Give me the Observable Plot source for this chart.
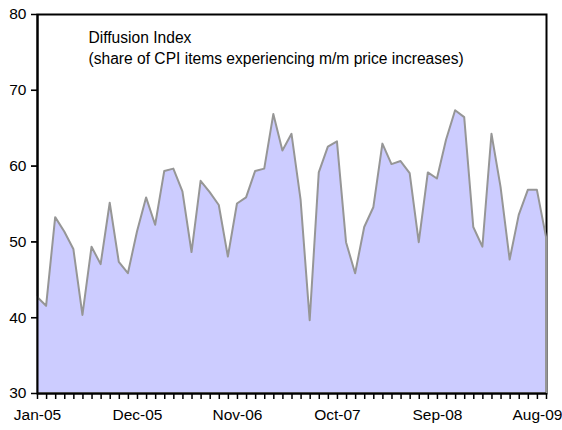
<!DOCTYPE html>
<html><head><meta charset="utf-8">
<script src="https://cdn.jsdelivr.net/npm/d3@7"></script>
<script src="https://cdn.jsdelivr.net/npm/@observablehq/plot@0.6"></script>
<style>body{margin:0;background:#fff} #chart{width:562px;height:430px}</style>
</head><body><div id="chart"></div>
<script>
// Monthly diffusion index, Jan-05 .. Sep-09
const values = [42.7, 41.5, 53.2, 51.3, 49.0, 40.3, 49.3, 47.0, 55.1, 47.3,
  45.8, 51.3, 55.8, 52.2, 59.3, 59.6, 56.6, 48.6, 58.0, 56.5,
  54.8, 48.0, 55.0, 55.8, 59.3, 59.6, 66.8, 62.0, 64.2, 55.5,
  39.6, 59.1, 62.5, 63.2, 49.9, 45.8, 51.9, 54.5, 62.9, 60.2,
  60.6, 59.0, 49.9, 59.1, 58.3, 63.4, 67.3, 66.4, 51.9, 49.3,
  64.2, 57.2, 47.6, 53.5, 56.8, 56.8, 50.6];
const tickLabels = ["Jan-05", "Dec-05", "Nov-06", "Oct-07", "Sep-08", "Aug-09"];
const tickEvery = 11;
const yTicks = [30, 40, 50, 60, 70, 80];
const title = "Diffusion Index";
const subtitle = "(share of CPI items experiencing m/m price increases)";

const data = values.map((v, i) => ({i, v}));
const font = "'Liberation Sans', Arial, sans-serif";
const yMin = yTicks[0];
const xIdx = d3.range(values.length);

const plot = Plot.plot({
  width: 562, height: 430,
  marginLeft: 37, marginRight: 16, marginTop: 14, marginBottom: 37,
  style: {fontFamily: font, fontSize: "15.5px", color: "#000", background: "#fff", overflow: "visible"},
  x: {domain: [0, values.length - 1]},
  y: {domain: [yMin, yTicks[yTicks.length - 1]]},
  marks: [
    Plot.frame({stroke: "#000", strokeWidth: 2}),
    Plot.areaY(data, {x: "i", y1: yMin, y2: "v", fill: "#CCCCFF", stroke: "#969696", strokeWidth: 2, strokeLinejoin: "round"}),
    Plot.ruleX([0], {stroke: "#000", strokeWidth: 2}),
    Plot.ruleY([yMin], {stroke: "#000", strokeWidth: 2}),
    // minor tick marks below the category axis
    Plot.ruleX(xIdx, {x: d => d, y1: yMin, y2: yMin, insetTop: 0, insetBottom: -6, stroke: "#000", strokeWidth: 1.5}),
    // tick marks left of the value axis
    Plot.ruleY(yTicks, {y: d => d, x1: 0, x2: 0, insetLeft: -6, insetRight: 0, stroke: "#000", strokeWidth: 1.5}),
    Plot.axisY({ticks: yTicks, tickSize: 6, tickPadding: 5, tickFormat: d => d, label: null}),
    Plot.axisX({ticks: tickLabels.map((_, k) => k * tickEvery), tickSize: 0, tickPadding: 15,
      tickFormat: d => tickLabels[Math.round(d / tickEvery)], label: null}),
    Plot.text([title + "\n" + subtitle], {frameAnchor: "top-left", dx: 51, dy: 13, textAnchor: "start", lineHeight: 1.36, fontSize: 15.6})
  ]
});
document.getElementById("chart").appendChild(plot);
</script>
</body></html>
